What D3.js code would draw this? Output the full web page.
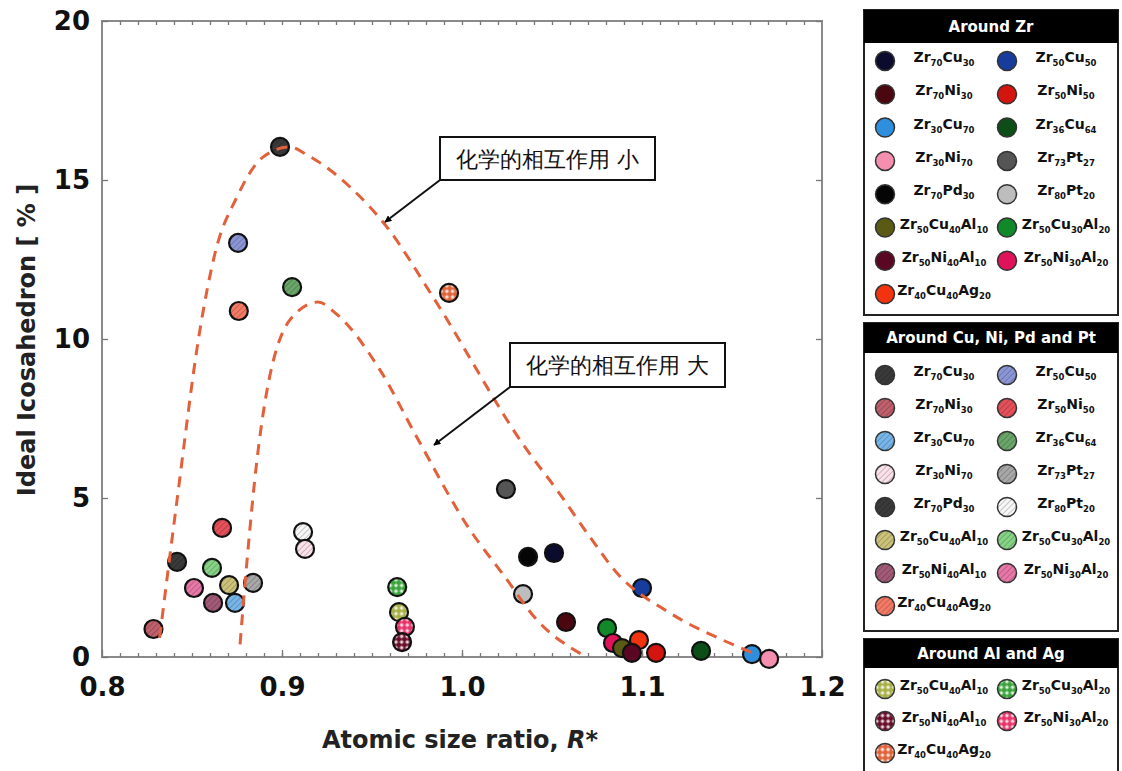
<!DOCTYPE html>
<html>
<head>
<meta charset="utf-8">
<script src="https://cdn.jsdelivr.net/npm/d3@7"></script>
<style>
body { margin: 0; background: #fff; }
svg { display: block; }
text { font-family: "DejaVu Sans", Verdana, sans-serif; }
</style>
</head>
<body>
<svg width="1122" height="771"></svg>
<script>
// compositions in legend order (two columns)
var names = ["Zr70Cu30","Zr50Cu50","Zr70Ni30","Zr50Ni50","Zr30Cu70","Zr36Cu64","Zr30Ni70","Zr73Pt27",
             "Zr70Pd30","Zr80Pt20","Zr50Cu40Al10","Zr50Cu30Al20","Zr50Ni40Al10","Zr50Ni30Al20","Zr40Cu40Ag20"];
var solidColors = ["#0b0b2e","#173c9c","#4a0710","#d3140f","#2f8fdc","#0c4d18","#f58fb0","#555555",
                   "#050505","#bdbdbd","#5a5a14","#11882a","#5a0724","#e0135a","#f2330f"];
var hatchColors = ["#3a3a3a","#8c96d6","#c0606c","#e5505a","#78b6ea","#6aa66a","#fbe2ea","#a8a8a8",
                   "#3a3a3a","#f7f7f7","#cdc27a","#86d386","#a35a78","#e878a8","#f57a66"];
var checkNames = ["Zr50Cu40Al10","Zr50Cu30Al20","Zr50Ni40Al10","Zr50Ni30Al20","Zr40Cu40Ag20"];
var checkColors = ["#a8b048","#3ca43c","#6a0f2a","#e8346a","#e0643a"];

// [composition, R*, ideal icosahedron %]
var zrPoints = [
  ["Zr73Pt27",1.0244,5.28], ["Zr70Pd30",1.0367,3.15], ["Zr70Cu30",1.0511,3.27], ["Zr80Pt20",1.0339,1.98],
  ["Zr50Cu50",1.100,2.17], ["Zr70Ni30",1.0578,1.10], ["Zr50Cu30Al20",1.0806,0.91], ["Zr40Cu40Ag20",1.0983,0.53],
  ["Zr50Ni30Al20",1.0839,0.44], ["Zr50Cu40Al10",1.0889,0.28], ["Zr50Ni40Al10",1.0944,0.13], ["Zr50Ni50",1.1078,0.13],
  ["Zr36Cu64",1.1328,0.19], ["Zr30Cu70",1.1611,0.09], ["Zr30Ni70",1.1706,-0.06]
];
var cuPoints = [
  ["Zr70Cu30",0.8989,16.04], ["Zr50Cu50",0.8756,13.02], ["Zr36Cu64",0.9056,11.63], ["Zr40Cu40Ag20",0.8760,10.88],
  ["Zr50Ni50",0.8667,4.06], ["Zr80Pt20",0.9117,3.93], ["Zr30Ni70",0.9128,3.40], ["Zr70Pd30",0.8417,2.99],
  ["Zr50Cu30Al20",0.8611,2.80], ["Zr50Ni30Al20",0.8511,2.17], ["Zr50Cu40Al10",0.8706,2.26], ["Zr73Pt27",0.8839,2.33],
  ["Zr50Ni40Al10",0.8617,1.70], ["Zr30Cu70",0.8739,1.70], ["Zr70Ni30",0.8286,0.88]
];
var alPoints = [
  ["Zr40Cu40Ag20",0.9928,11.45], ["Zr50Cu30Al20",0.9640,2.20], ["Zr50Cu40Al10",0.9650,1.41],
  ["Zr50Ni30Al20",0.9683,0.95], ["Zr50Ni40Al10",0.9667,0.47]
];

// dashed guide curves
var weakCurve = [[0.832,0.6],[0.8417,4.94],[0.8544,10.28],[0.8628,12.7],[0.875,14.47],[0.8894,15.72],[0.9044,16.04],
                 [0.9139,15.79],[0.9378,14.78],[0.9583,13.52],[0.9839,11.32],[1.0361,6.51],[1.0528,5.25],[1.0711,3.77],
                 [1.0861,2.64],[1.1156,1.38],[1.145,0.53],[1.162,0.12]];
var strongCurve = [[0.8767,0.4],[0.8806,3.05],[0.8861,6.2],[0.9044,10.6],[0.92,11.16],[0.9300,10.8],[0.9544,9.03],
                   [0.975,6.9],[1.0044,4.0],[1.0228,2.6],[1.0417,1.16],[1.0672,0.06]];

var xTicks = [0.8, 0.9, 1.0, 1.1, 1.2];
var yTicks = [0, 5, 10, 15, 20];

var svg = d3.select("svg");
var margin = {left: 102, top: 21, right: 822, bottom: 657};

var x = d3.scaleLinear().domain([0.8, 1.2]).range([margin.left, margin.right]);
var y = d3.scaleLinear().domain([0, 20]).range([margin.bottom, margin.top]);

var defs = svg.append("defs");

function hatchId(i) { return "hatch" + i; }
function checkId(i) { return "check" + i; }

hatchColors.forEach(function(c, i) {
  var p = defs.append("pattern").attr("id", hatchId(i))
      .attr("patternUnits", "userSpaceOnUse").attr("width", 4).attr("height", 4)
      .attr("patternTransform", "rotate(45)");
  p.append("rect").attr("width", 4).attr("height", 4).attr("fill", c);
  p.append("line").attr("x1", 0).attr("y1", 0).attr("x2", 0).attr("y2", 4)
      .attr("stroke", d3.color(c).darker(0.8)).attr("stroke-width", 1.6);
});
checkColors.forEach(function(c, i) {
  var p = defs.append("pattern").attr("id", checkId(i))
      .attr("patternUnits", "userSpaceOnUse").attr("width", 8).attr("height", 8)
      .attr("patternTransform", "rotate(45)");
  p.append("rect").attr("width", 8).attr("height", 8).attr("fill", c);
  p.append("rect").attr("x", 0.5).attr("y", 0.5).attr("width", 3).attr("height", 3).attr("fill", "#fff").attr("opacity", 0.85);
  p.append("rect").attr("x", 4.5).attr("y", 4.5).attr("width", 3).attr("height", 3).attr("fill", "#fff").attr("opacity", 0.85);
});

defs.append("marker").attr("id", "arrow").attr("viewBox", "0 0 10 10")
    .attr("refX", 9).attr("refY", 5).attr("markerWidth", 7).attr("markerHeight", 7)
    .attr("markerUnits", "userSpaceOnUse").attr("orient", "auto")
  .append("path").attr("d", "M0,0L10,5L0,10z").attr("fill", "#000");

function solidFill(n) { return solidColors[names.indexOf(n)]; }
function hatchFill(n) { return "url(#" + hatchId(names.indexOf(n)) + ")"; }
function checkFill(n) { return "url(#" + checkId(checkNames.indexOf(n)) + ")"; }

// frame
svg.append("rect")
    .attr("x", margin.left).attr("y", margin.top)
    .attr("width", margin.right - margin.left).attr("height", margin.bottom - margin.top)
    .attr("fill", "none").attr("stroke", "#8a8a8a").attr("stroke-width", 2);

var minor = d3.range(81, 120).map(function(d) { return d / 100; });

function styleAxis(g) {
  g.select(".domain").remove();
  g.selectAll("line").attr("stroke", "#777").attr("stroke-width", 1.3);
}

svg.append("g").attr("transform", "translate(0," + margin.bottom + ")")
    .call(d3.axisBottom(x).tickValues(minor).tickSize(-4).tickFormat(""))
    .call(styleAxis);
svg.append("g").attr("transform", "translate(0," + margin.top + ")")
    .call(d3.axisTop(x).tickValues(minor).tickSize(-4).tickFormat(""))
    .call(styleAxis);

var xAxis = svg.append("g").attr("transform", "translate(0," + margin.bottom + ")")
    .call(d3.axisBottom(x).tickValues(xTicks).tickSize(-7).tickPadding(21).tickFormat(d3.format(".1f")))
    .call(styleAxis);
xAxis.selectAll("text").attr("font-size", 26).attr("font-weight", "bold").attr("fill", "#111");

svg.append("g").attr("transform", "translate(" + margin.right + ",0)")
    .call(d3.axisRight(y).tickValues(yTicks).tickSize(-6).tickFormat(""))
    .call(styleAxis);
var yAxis = svg.append("g").attr("transform", "translate(" + margin.left + ",0)")
    .call(d3.axisLeft(y).tickValues(yTicks).tickSize(-6).tickPadding(12))
    .call(styleAxis);
yAxis.selectAll("text").attr("font-size", 26).attr("font-weight", "bold").attr("fill", "#111");

// axis titles
var xt = svg.append("text").attr("x", 460).attr("y", 748).attr("text-anchor", "middle")
    .attr("font-size", 24).attr("font-weight", "bold").attr("fill", "#222");
xt.append("tspan").text("Atomic size ratio, ");
xt.append("tspan").attr("font-style", "italic").text("R*");

svg.append("text").attr("transform", "translate(35,340) rotate(-90)").attr("text-anchor", "middle")
    .attr("font-size", 24).attr("font-weight", "bold").attr("fill", "#222")
    .text("Ideal Icosahedron [ % ]");

// points
var r = 9;
function drawPoints(data, fill) {
  svg.append("g").selectAll("circle").data(data).enter().append("circle")
      .attr("cx", function(d) { return x(d[1]); })
      .attr("cy", function(d) { return y(d[2]); })
      .attr("r", r)
      .attr("fill", function(d) { return fill(d[0]); })
      .attr("stroke", "#111").attr("stroke-width", 2.2);
}
drawPoints(cuPoints, hatchFill);
drawPoints(alPoints, checkFill);
drawPoints(zrPoints, solidFill);

// curves
var line = d3.line().x(function(d) { return x(d[0]); }).y(function(d) { return y(d[1]); })
    .curve(d3.curveMonotoneX);
[weakCurve, strongCurve].forEach(function(c) {
  svg.append("path").datum(c).attr("d", line)
      .attr("fill", "none").attr("stroke", "#e2603a").attr("stroke-width", 3)
      .attr("stroke-dasharray", "11,8");
});

// annotations
function note(bx, by, bw, bh, label, ax, ay) {
  svg.append("rect").attr("x", bx).attr("y", by).attr("width", bw).attr("height", bh)
      .attr("fill", "#fff").attr("stroke", "#111").attr("stroke-width", 2);
  svg.append("text").attr("x", bx + bw / 2).attr("y", by + bh / 2 + 8).attr("text-anchor", "middle")
      .attr("font-family", "'Noto Sans CJK JP', sans-serif").attr("font-size", 22).attr("fill", "#111")
      .text(label);
  svg.append("line").attr("x1", bx).attr("y1", by + bh).attr("x2", ax).attr("y2", ay)
      .attr("stroke", "#111").attr("stroke-width", 2).attr("marker-end", "url(#arrow)");
}
note(440, 137, 215, 43, "化学的相互作用 小", 385, 222);
note(510, 343, 215, 44, "化学的相互作用 大", 434, 445);

// legends
function chemLabel(sel, name) {
  var parts = name.match(/[A-Z][a-z]?\d+/g);
  parts.forEach(function(p) {
    var m = p.match(/([A-Z][a-z]?)(\d+)/);
    sel.append("tspan").attr("font-size", 14).attr("dy", sel.selectAll("tspan").size() ? -4 : 0).text(m[1]);
    sel.append("tspan").attr("font-size", 8.5).attr("dy", 4).text(m[2]);
  });
}

function legendPanel(top, headerH, bottom, title, list, fill, rowStart, rowStep) {
  var g = svg.append("g");
  g.append("rect").attr("x", 864).attr("y", top).attr("width", 254).attr("height", bottom - top)
      .attr("fill", "#fff").attr("stroke", "#222").attr("stroke-width", 2);
  g.append("rect").attr("x", 864).attr("y", top).attr("width", 254).attr("height", headerH).attr("fill", "#000");
  g.append("text").attr("x", 991).attr("y", top + headerH / 2 + 5).attr("text-anchor", "middle")
      .attr("font-size", 15).attr("font-weight", "bold").attr("fill", "#fff").text(title);
  list.forEach(function(n, i) {
    var col = i % 2, row = Math.floor(i / 2);
    var cy = rowStart + row * rowStep;
    g.append("circle").attr("cx", col ? 1007 : 885).attr("cy", cy).attr("r", 9.5)
        .attr("fill", fill(n)).attr("stroke", "#333").attr("stroke-width", 1.5);
    var t = g.append("text").attr("x", col ? 1066 : 944).attr("y", cy + 5).attr("text-anchor", "middle")
        .attr("font-weight", "bold").attr("fill", "#111");
    chemLabel(t, n);
  });
}
legendPanel(10, 33, 315, "Around Zr", names, solidFill, 61, 33.3);
legendPanel(323, 30, 631, "Around Cu, Ni, Pd and Pt", names, hatchFill, 375, 33);
legendPanel(639, 29, 800, "Around Al and Ag", checkNames, checkFill, 689, 32);
</script>
</body>
</html>
